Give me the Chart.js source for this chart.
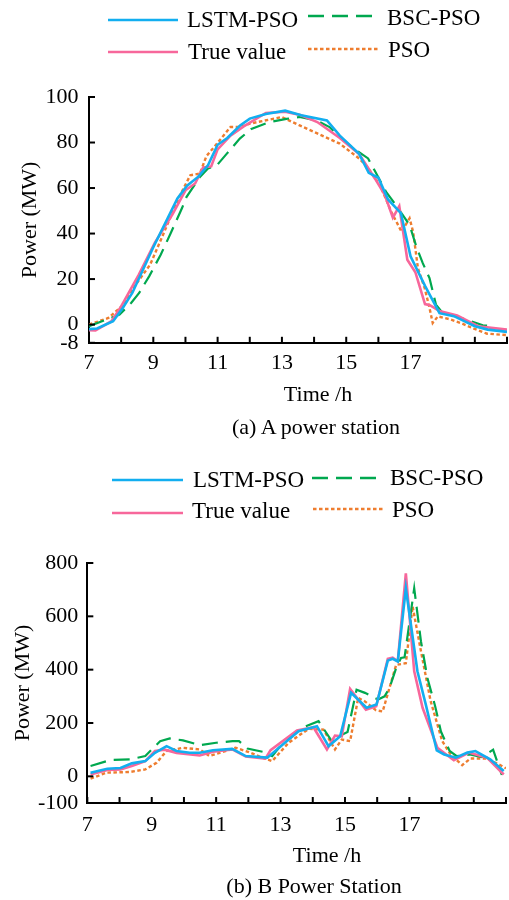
<!DOCTYPE html>
<html>
<head>
<meta charset="utf-8">
<script src="https://cdn.jsdelivr.net/npm/chart.js@4.4.0/dist/chart.umd.min.js"></script>
<style>
body { margin:0; background:#fff; width:509px; height:900px; position:relative; overflow:hidden; font-family:"Liberation Serif","Times New Roman",serif; }
.box { position:absolute; left:0; width:509px; height:450px; }
.box canvas { display:block; }
.lbl { position:absolute; font-size:22px; color:#000; white-space:nowrap; transform:translate(-50%,-50%); line-height:1; }
</style>
</head>
<body>
<div class="box" style="top:0"><canvas id="chartA" width="509" height="450"></canvas></div>
<div class="box" style="top:450px"><canvas id="chartB" width="509" height="450"></canvas></div>
<div class="lbl" style="left:318px;top:394px">Time /h</div>
<div class="lbl" style="left:316px;top:427px">(a) A power station</div>
<div class="lbl" style="left:327px;top:855px">Time /h</div>
<div class="lbl" style="left:314px;top:886px">(b) B Power Station</div>
<script>
// ---- station A (MW) ----
var tA_lstm = [7.0, 7.25, 7.75, 8.05, 8.35, 9.0, 9.75, 10.05, 10.4, 10.7, 11.0, 11.3, 11.7, 12.0, 12.5, 13.1, 13.6, 14.4, 14.8, 15.4, 15.7, 16.0, 16.3, 16.7, 17.0, 17.45, 17.9, 18.35, 19.0, 19.4, 20.0];
var A_lstm  = [-2, -1.7, 1.5, 7.3, 14, 34, 55.4, 61, 65, 70, 79, 82, 87.5, 90.5, 92.5, 94, 92, 89.7, 83, 75, 66.7, 64.5, 55, 49, 30, 17, 5, 3.7, -0.7, -2.2, -3.2];

var tA_true = [7.0, 7.2, 7.7, 8.0, 8.55, 9.05, 9.6, 10.0, 10.3, 10.55, 10.8, 11.0, 11.4, 11.8, 12.5, 13.1, 13.6, 14.1, 14.8, 15.4, 15.9, 16.2, 16.45, 16.65, 16.9, 17.15, 17.45, 17.6, 17.9, 18.45, 19.1, 20.0];
var A_true  = [-2.5, -2.6, 1.5, 8, 22, 36, 48.5, 59, 62, 69, 69.5, 77, 83, 87, 93, 93.5, 92, 89, 82, 75, 64, 57, 47, 52, 28.5, 23, 9, 8.5, 6, 4, -0.7, -2.2];

var tA_bsc = [7.0, 7.95, 8.31, 8.56, 8.87, 9.23, 9.54, 9.89, 10.03, 10.45, 10.7, 10.96, 11.28, 11.69, 12.05, 12.62, 13.14, 13.55, 14.07, 14.48, 14.9, 15.31, 15.68, 15.88, 16.24, 16.51, 16.97, 17.18, 17.38, 17.59, 17.79, 18.0, 18.42, 18.83, 19.25, 19.6];
var A_bsc  = [-0.7, 4.4, 9.5, 13.9, 21.2, 30.7, 40.1, 51.1, 56, 64.9, 68.6, 69.7, 75, 81.7, 86, 89, 90.4, 91.2, 89.7, 86.8, 81, 76.6, 73, 67.8, 58.3, 53.2, 43.8, 34.3, 27, 20.4, 8.8, 5.1, 3.6, 1.75, -0.3, -0.7];

var tA_pso = [7.0, 7.6, 8.05, 8.45, 8.9, 9.3, 9.8, 10.15, 10.45, 10.65, 10.95, 11.4, 11.7, 12.0, 13.0, 13.55, 14.1, 14.8, 15.4, 15.65, 16.05, 16.4, 16.72, 16.97, 17.08, 17.23, 17.44, 17.59, 17.69, 17.85, 18.26, 18.56, 18.97, 19.38, 20.0];
var A_pso  = [0, 2.9, 8.4, 17.5, 26.3, 39.4, 56, 65.6, 66.4, 74, 79, 86.8, 86.8, 88.3, 91.2, 87.5, 84, 79.5, 73, 69.3, 61.3, 49.6, 40.8, 46.7, 40.8, 24.8, 16, 7.3, 0.7, 3.6, 2.2, 0.7, -1.8, -4, -4.6];

var yTicksA = [-8, 0, 20, 40, 60, 80, 100];

// ---- station B (MW) ----
var tB_lstm = [7.1, 7.62, 8.03, 8.38, 8.8, 9.1, 9.46, 9.77, 10.18, 10.49, 10.9, 11.5, 11.92, 12.59, 12.95, 13.56, 14.13, 14.49, 14.85, 15.19, 15.67, 15.98, 16.33, 16.48, 16.64, 16.89, 17.25, 17.51, 17.85, 18.08, 18.44, 18.8, 19.05, 19.51, 19.93];
var B_lstm  = [13.7, 28.7, 31, 48.6, 57, 88, 113, 95, 88.5, 88.5, 98, 103, 76, 70, 107, 169, 188, 113, 150, 313, 257, 269, 434, 441, 431, 705, 394, 269, 97, 82, 70, 89, 95, 64, 20];

var tB_true = [7.1, 7.62, 8.03, 8.38, 8.8, 9.1, 9.4, 9.77, 10.49, 10.9, 11.5, 11.92, 12.53, 12.69, 13.51, 14.02, 14.44, 14.69, 14.9, 15.16, 15.65, 15.97, 16.33, 16.48, 16.64, 16.89, 17.15, 17.41, 17.87, 18.38, 18.85, 19.41, 19.93];
var B_true  = [7, 24, 26, 39, 57, 95, 100, 88, 78, 92, 101, 74, 66, 98, 172, 184, 101, 153, 150, 328, 250, 263, 441, 445, 431, 761, 394, 257, 107, 60, 89, 70, 7];

var tB_bsc = [7.1, 7.72, 8.33, 8.8, 9.26, 9.56, 9.97, 10.49, 11.0, 11.51, 11.71, 11.97, 12.48, 12.74, 12.95, 13.66, 14.18, 14.59, 14.8, 15.08, 15.36, 15.62, 16.03, 16.23, 16.38, 16.59, 16.74, 16.85, 17.15, 17.36, 17.56, 17.8, 17.98, 18.25, 18.47, 18.88, 19.25, 19.6, 19.87];
var B_bsc  = [39, 61, 64, 76, 132, 142, 135, 117, 126, 132, 132, 104, 91, 76, 107, 182, 207, 132, 150, 166, 325, 313, 288, 300, 331, 406, 444, 446, 705, 506, 369, 263, 168, 95, 76, 82, 72, 100, 5];

var tB_pso = [7.1, 7.6, 8.3, 8.8, 9.15, 9.46, 9.97, 10.49, 10.79, 11.2, 11.6, 12.02, 12.43, 12.74, 13.25, 13.87, 14.33, 14.69, 14.9, 15.16, 15.41, 15.62, 15.96, 16.17, 16.38, 16.59, 16.89, 17.1, 17.36, 17.66, 18.02, 18.28, 18.64, 18.9, 19.41, 19.87, 20.0];
var B_pso  = [-9, 14, 16, 26, 51, 95, 107, 101, 76, 91, 107, 91, 70, 57, 126, 178, 175, 101, 138, 132, 294, 281, 248, 243, 331, 418, 424, 637, 469, 282, 132, 82, 42, 67, 67, 39, 30];

var yTicksB = [-100, 0, 200, 400, 600, 800];

var seriesNames = ['LSTM-PSO', 'True value', 'BSC-PSO', 'PSO'];

Chart.defaults.font.family = '"Liberation Serif", "Times New Roman", serif';
Chart.defaults.font.size = 22;
Chart.defaults.color = '#000';

function pts(t, v) {
    return t.map((x, i) => ({x: x, y: v[i]}));
}

function makeSets(lstm, tru, bsc, pso) {
    return [
        {label: seriesNames[0], data: lstm, borderColor: '#12aef0', borderWidth: 2.6},
        {label: seriesNames[1], data: tru, borderColor: '#f7679b', borderWidth: 2.6},
        {label: seriesNames[2], data: bsc, borderColor: '#00a84f', borderWidth: 2.2, borderDash: [16, 8]},
        {label: seriesNames[3], data: pso, borderColor: '#ee7d2f', borderWidth: 2.4, borderDash: [3.5, 2.5]},
    ];
}

// legend drawn by hand, 2 x 2 like the figure
var legendPlugin = {
    id: 'handLegend',
    afterDraw(chart) {
        var items = chart.options.plugins.handLegend.items;
        var ctx = chart.ctx;
        ctx.save();
        items.forEach(function (it) {
            var ds = chart.data.datasets[it.ds];
            ctx.beginPath();
            ctx.strokeStyle = ds.borderColor;
            ctx.lineWidth = 2.4;
            ctx.setLineDash(ds.borderDash || []);
            ctx.moveTo(it.x1, it.ly);
            ctx.lineTo(it.x2, it.ly);
            ctx.stroke();
            ctx.setLineDash([]);
            ctx.fillStyle = '#000';
            ctx.font = '23px "Liberation Serif", serif';
            ctx.textBaseline = 'alphabetic';
            ctx.fillText(ds.label, it.tx, it.ty);
        });
        ctx.restore();
    }
};

// tick marks point into the plot
var inTicks = {
    id: 'inTicks',
    afterDraw(chart) {
        var ctx = chart.ctx, a = chart.chartArea;
        var sx = chart.scales.x, sy = chart.scales.y;
        ctx.save();
        ctx.strokeStyle = '#000';
        ctx.lineWidth = 2;
        sx.ticks.forEach(function (t) {
            var px = sx.getPixelForValue(t.value);
            ctx.beginPath(); ctx.moveTo(px, a.bottom); ctx.lineTo(px, a.bottom - 6); ctx.stroke();
        });
        sy.ticks.forEach(function (t) {
            var py = sy.getPixelForValue(t.value);
            ctx.beginPath(); ctx.moveTo(a.left, py); ctx.lineTo(a.left + 6, py); ctx.stroke();
        });
        ctx.restore();
    }
};

function buildChart(id, datasets, yMin, yMax, yTicks, cfg) {
    var ctx = document.getElementById(id).getContext('2d');
    return new Chart(ctx, {
        type: 'line',
        data: {datasets: datasets},
        options: {
            responsive: false,
            animation: false,
            elements: {point: {radius: 0}, line: {tension: 0, fill: false}},
            layout: {padding: cfg.padding},
            plugins: {
                legend: {display: false},
                tooltip: {enabled: false},
                handLegend: {items: cfg.legend},
            },
            scales: {
                x: {
                    type: 'linear', min: 7, max: 20,
                    grid: {display: false, drawTicks: false},
                    border: {color: '#000', width: 2},
                    ticks: {
                        stepSize: 1, autoSkip: false, maxRotation: 0, padding: 0,
                        font: {size: 22, lineHeight: cfg.xLine},
                        callback: function (v) { return (v % 2 === 1 && v <= 17) ? v : ''; }
                    },
                },
                y: {
                    min: yMin, max: yMax,
                    grid: {display: false, drawTicks: false},
                    border: {color: '#000', width: 2},
                    afterBuildTicks: function (s) { s.ticks = yTicks.map(v => ({value: v})); },
                    ticks: {autoSkip: false, padding: cfg.yPad},
                    title: {
                        display: true, text: 'Power (MW)',
                        font: {size: 22, lineHeight: 1},
                        padding: cfg.titlePad
                    },
                },
            },
        },
        plugins: [legendPlugin, inTicks],
    });
}

buildChart('chartA',
    makeSets(pts(tA_lstm, A_lstm), pts(tA_true, A_true), pts(tA_bsc, A_bsc), pts(tA_pso, A_pso)),
    -8, 100, yTicksA, {
        padding: {top: 97, left: 19, right: 2, bottom: 66.5},
        xLine: 1.85, yPad: 10.5, titlePad: {top: 0, bottom: -6},
        legend: [
            {ds: 0, x1: 108, x2: 178, ly: 20, tx: 187, ty: 27},
            {ds: 2, x1: 308, x2: 378, ly: 16, tx: 387, ty: 25},
            {ds: 1, x1: 108, x2: 178, ly: 52, tx: 188, ty: 58.5},
            {ds: 3, x1: 308, x2: 379, ly: 49, tx: 388, ty: 56.5},
        ]
    });

buildChart('chartB',
    makeSets(pts(tB_lstm, B_lstm), pts(tB_true, B_true), pts(tB_bsc, B_bsc), pts(tB_pso, B_pso)),
    -100, 800, yTicksB, {
        padding: {top: 113, left: 12, right: 3, bottom: 53},
        xLine: 2.0, yPad: 9, titlePad: {top: 0, bottom: -5},
        legend: [
            {ds: 0, x1: 112, x2: 183, ly: 30, tx: 193, ty: 37},
            {ds: 2, x1: 312, x2: 383, ly: 28, tx: 390, ty: 35},
            {ds: 1, x1: 112, x2: 183, ly: 63, tx: 192, ty: 68},
            {ds: 3, x1: 313, x2: 383, ly: 59, tx: 392, ty: 66.5},
        ]
    });
</script>
</body>
</html>
